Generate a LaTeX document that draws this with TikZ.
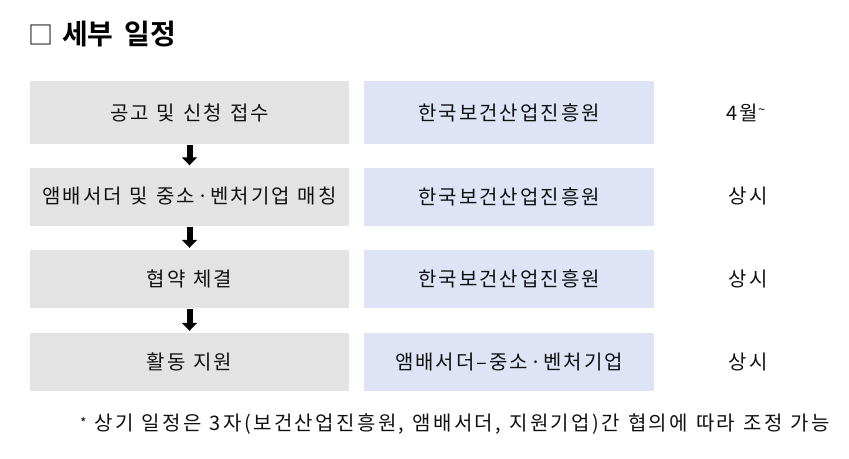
\documentclass[tikz,border=0pt]{standalone}
\usepackage{fontspec}
\usetikzlibrary{arrows.meta}
\setmainfont{Noto Sans CJK KR}
\newfontfamily\krbox[LetterSpace=10]{Noto Sans CJK KR}
\newfontfamily\krfoot[LetterSpace=12]{Noto Sans CJK KR}
\newfontfamily\krtitle{Noto Sans CJK KR Bold}
\definecolor{graybox}{HTML}{E3E3E3}
\definecolor{bluebox}{HTML}{DFE3F6}
\definecolor{txt}{HTML}{111111}
\newcommand{\wg}{\hspace{8pt}}
\begin{document}
\begin{tikzpicture}[x=1pt,y=-1pt,
  stepbox/.style={fill=graybox, minimum width=319pt, minimum height=62pt, inner sep=0pt, text=txt, font=\krbox\fontsize{20}{23}\selectfont},
  orgbox/.style={fill=bluebox, minimum width=290pt, minimum height=62pt, inner sep=0pt, text=txt, font=\krbox\fontsize{20}{23}\selectfont},
  timetext/.style={inner sep=0pt, text=txt, font=\krbox\fontsize{20}{23}\selectfont},
  flowarrow/.style={line width=6pt, -{Triangle[width=15pt,length=8pt]}, shorten <=1pt, shorten >=2pt}
]
\path[use as bounding box] (0,0) rectangle (849,458);
\node[anchor=west, inner sep=0pt, font=\krtitle\fontsize{28}{31}\selectfont, text=black] (title) at (28,34) {{\fontsize{25}{28}\selectfont\krbox □}\hspace{9pt}세부\hspace{11pt}일정};
% rows
\node[stepbox, minimum height=63pt] (s1) at (189.5,112.5) {공고\wg 및\wg 신청\wg 접수};
\node[stepbox, minimum height=58pt] (s2) at (189.5,196.5) {앰배서더\wg 및\wg 중소·벤처기업\wg 매칭};
\node[stepbox, minimum height=58pt] (s3) at (189.5,279) {협약\wg 체결};
\node[stepbox, minimum height=58pt] (s4) at (189.5,362) {활동\wg 지원};
\node[orgbox, minimum height=63pt] (o1) at (509,112.5) {한국보건산업진흥원};
\node[orgbox, minimum height=58pt] (o2) at (509,196.5) {한국보건산업진흥원};
\node[orgbox, minimum height=58pt] (o3) at (509,279) {한국보건산업진흥원};
\node[orgbox, minimum height=58pt] (o4) at (509,362) {앰배서더–중소·벤처기업};
\node[timetext] (t1) at (746,112.5) {4월\raisebox{6pt}{\fontsize{13}{13}\selectfont\char"007E}};
\node[timetext] (t2) at (748,196.5) {상시};
\node[timetext] (t3) at (748,279) {상시};
\node[timetext] (t4) at (748,362) {상시};
\draw[flowarrow] (s1) -- (s2);
\draw[flowarrow] (s2) -- (s3);
\draw[flowarrow] (s3) -- (s4);
\node[anchor=west, inner sep=0pt, text=txt, font=\krfoot\fontsize{20}{23}\selectfont] (note) at (80,424) {\raisebox{2pt}{\fontsize{14}{14}\selectfont\char"002A}\wg 상기\wg 일정은\wg 3자(보건산업진흥원,\wg 앰배서더,\wg 지원기업)간\wg 협의에\wg 따라\wg 조정\wg 가능};
\end{tikzpicture}
\end{document}
